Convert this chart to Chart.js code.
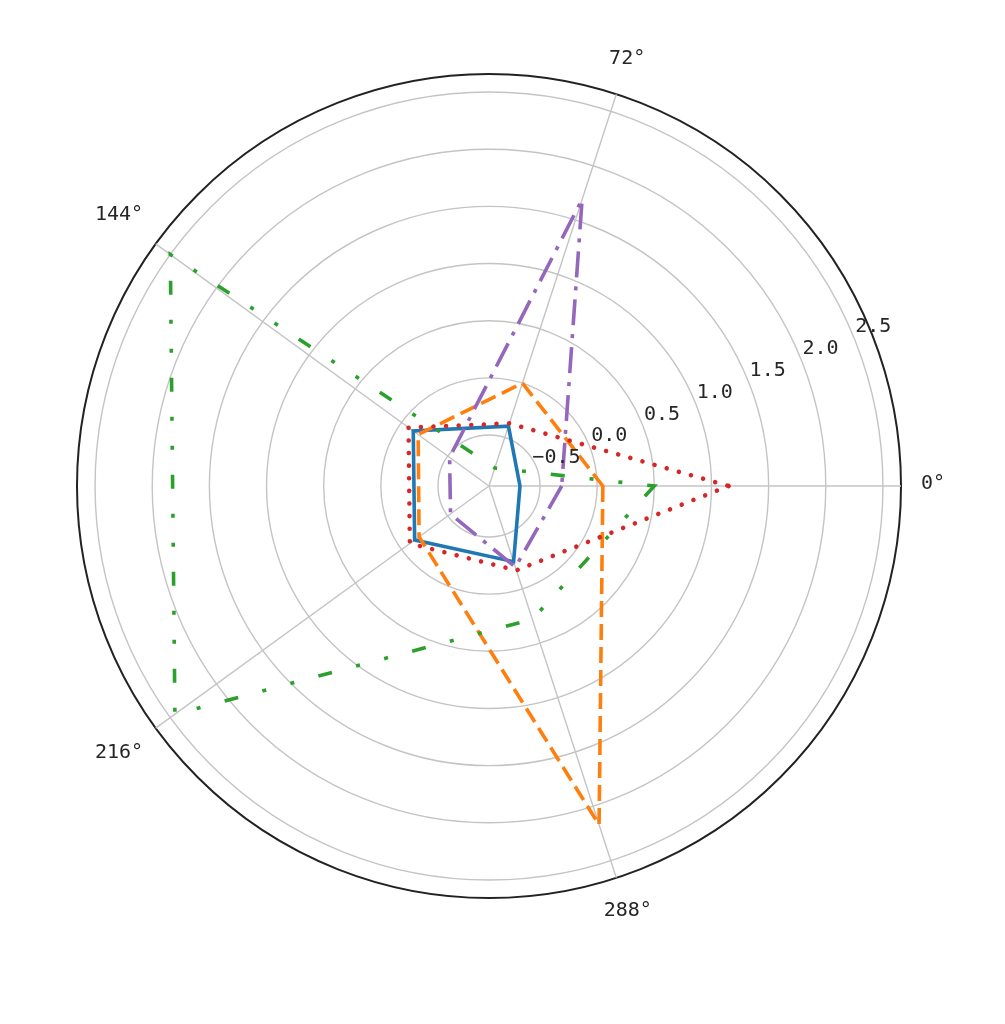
<!DOCTYPE html>
<html><head><meta charset="utf-8">
<script src="https://cdn.jsdelivr.net/npm/chart.js@4.4.1/dist/chart.umd.min.js"></script>
<style>html,body{margin:0;padding:0;background:#fff;} #c{display:block;}</style>
</head><body>
<canvas id="c" width="1005" height="1024"></canvas>
<script>
// Angles (matplotlib order: counter-clockwise from 0°)
const angleLabels = ['0°', '72°', '144°', '216°', '288°'];
// Series values, in angleLabels order
const seriesBlue   = [-0.675, -0.395, -0.127, -0.142, -0.25];
const seriesOrange = [0.05, 0.0, -0.18, -0.19, 2.17];
const seriesGreen  = [0.5, -0.78, 2.5, 2.45, 0.28];
const seriesRed    = [1.15, -0.37, -0.076, -0.09, -0.17];
const seriesPurple = [-0.31, 1.69, -0.52, -0.53, -0.2];
// Radial axis
const tickValues = [-0.5, 0, 0.5, 1, 1.5, 2, 2.5];
const tickLabels = ['\u22120.5', '0.0', '0.5', '1.0', '1.5', '2.0', '2.5'];
const rMin = -0.946, rMax = 2.658;

// Chart.js goes clockwise; matplotlib goes counter-clockwise
const ccw = a => [a[0], a[4], a[3], a[2], a[1]];

const CX = 489, CY = 486, R = 412;
const FONT = '20px "DejaVu Sans Mono"';

const labelsPlugin = {
  id: 'polarLabels',
  afterDatasetsDraw(chart) {
    const s = chart.scales.r;
    const ctx = chart.ctx;
    ctx.save();
    ctx.font = FONT;
    ctx.fillStyle = '#262626';
    ctx.textAlign = 'center';
    ctx.textBaseline = 'middle';
    const a = 22.5 * Math.PI / 180;
    tickValues.forEach((v, i) => {
      const d = s.getDistanceFromCenterForValue(v) + 22;
      ctx.fillText(tickLabels[i], s.xCenter + d * Math.cos(a), s.yCenter - d * Math.sin(a));
    });
    chart.data.labels.forEach((lab, i) => {
      const ang = s.getIndexAngle(i) - Math.PI / 2;
      const c = Math.cos(ang), sn = Math.sin(ang);
      const w = ctx.measureText(lab).width;
      const ext = Math.abs(c) * w / 2 + Math.abs(sn) * 10;
      const d = s.drawingArea + 20 + ext;
      ctx.fillText(lab, s.xCenter + d * c, s.yCenter + d * sn - 2);
    });
    ctx.restore();
  }
};

function ds(values, color, dash, order, cap, width) {
  return {
    data: ccw(values), borderColor: color, backgroundColor: color,
    borderWidth: width || 3.6, borderDash: dash, borderCapStyle: cap || 'butt',
    pointRadius: 0, pointHoverRadius: 0, fill: false, order: order, tension: 0
  };
}

new Chart(document.getElementById('c'), {
  type: 'radar',
  data: {
    labels: ccw(angleLabels),
    datasets: [
      ds(seriesBlue, '#1f77b4', [], 4),
      ds(seriesOrange, '#ff7f0e', [16, 7], 3),
      ds(seriesGreen, '#2ca02c', [14, 25, 4, 25, 4, 25], 2),
      ds(seriesRed, '#d62728', [0.01, 12.6], 1, 'round', 4.6),
      ds(seriesPurple, '#9467bd', [26, 9, 4, 9], 0)
    ]
  },
  options: {
    responsive: false, animation: false, devicePixelRatio: 1,
    plugins: { legend: { display: false }, tooltip: { enabled: false } },
    scales: {
      r: {
        min: rMin, max: rMax, startAngle: 90,
        grid: {
          circular: true,
          color: c => (c.tick && c.tick.value === rMax) ? '#222' : '#c4c4c4',
          lineWidth: c => (c.tick && c.tick.value === rMax) ? 2 : 1.4
        },
        angleLines: { color: '#c4c4c4', lineWidth: 1.4 },
        pointLabels: { display: false },
        ticks: { display: false },
        afterBuildTicks: s => { s.ticks = tickValues.concat([rMax]).map(v => ({ value: v })); },
        afterFit: s => { s.xCenter = CX; s.yCenter = CY; s.drawingArea = R; }
      }
    }
  },
  plugins: [labelsPlugin]
});
</script>
</body></html>
